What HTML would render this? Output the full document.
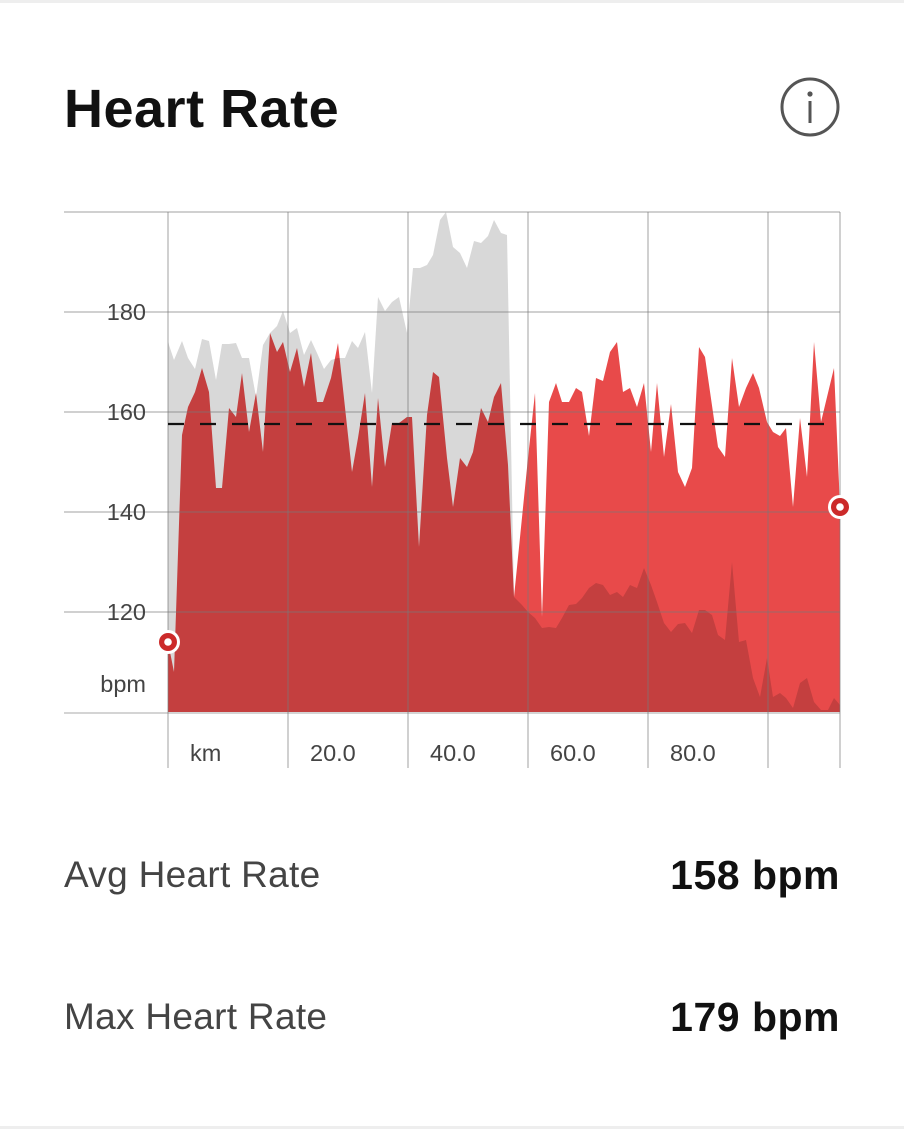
<!DOCTYPE html>
<html><head><meta charset="utf-8">
<style>
html,body{margin:0;padding:0;background:#fff;}
body{width:904px;height:1129px;position:relative;overflow:hidden;font-family:"Liberation Sans",sans-serif;}
.t{position:absolute;white-space:nowrap;line-height:1;}
</style></head>
<body>
<div style="position:absolute;left:0;top:0;width:904px;height:3px;background:#eee"></div>
<div style="position:absolute;left:0;top:1126px;width:904px;height:3px;background:#eee"></div>
<div class="t" style="left:64px;top:82px;font-size:54px;font-weight:bold;color:#111;letter-spacing:0.5px">Heart Rate</div>
<svg style="position:absolute;left:778px;top:76px" width="64" height="64">
<circle cx="32" cy="31" r="28" fill="none" stroke="#555" stroke-width="3"/>
<circle cx="32" cy="18" r="2.6" fill="#555"/>
<rect x="30.5" y="25" width="3" height="22" fill="#555"/>
</svg>
<svg id="chart" style="position:absolute;left:0;top:0" width="904" height="800"></svg>
<div class="t" style="left:64px;top:856px;font-size:37px;color:#444;letter-spacing:0.3px">Avg Heart Rate</div>
<div class="t" style="right:64px;top:855px;font-size:41px;font-weight:bold;color:#111;letter-spacing:0.5px">158 bpm</div>
<div class="t" style="left:64px;top:998px;font-size:37px;color:#444;letter-spacing:0.3px">Max Heart Rate</div>
<div class="t" style="right:64px;top:997px;font-size:41px;font-weight:bold;color:#111;letter-spacing:0.5px">179 bpm</div>
<script>
const hrKm=[0,1,2.33,3.33,4.5,5.67,6.83,8,9,10.17,11.33,12.33,13.5,14.67,15.83,17,18.17,19.17,20.33,21.5,22.67,23.83,24.83,25.83,27.17,28.33,30.67,31.67,32.83,34,35,36.17,37.33,38.5,39.83,40.67,41.83,43.17,44.17,45.17,46.5,47.5,48.67,49.83,50.83,52.17,53.33,54.33,55.5,56.67,57.67,60,61.17,62.33,63.5,64.67,65.67,66.83,68,69,70.17,71.33,72.5,73.67,74.83,75.83,77,78.17,79.33,80.5,81.5,82.67,83.83,85,86.17,87.33,88.5,89.5,91.67,92.83,94,95.17,96.33,97.5,98.5,99.83,100.83,102,103,104.17,105.33,106.5,107.67,108.83,111,112];
const hrBpm=[114,108,155.4,161,164,168.8,164,144.8,144.8,160.8,159,167.8,156,163.8,152,175.8,172,174,168,172.8,165,171.8,162,162,166.8,173.8,148,154.8,163.8,145,162.8,149,157.8,157.8,159,159,133,159.4,168,167,150.8,141,150.8,149,152,160.8,158,163,165.8,149.4,123,150.8,163.8,119,162,165.8,162,162,164.8,164,155.2,166.8,166.2,172,174,164,164.8,161,165.8,152,165.8,151,161.6,148,145,148.8,173,171,153,151,170.8,161,164.8,167.8,164.8,158,156,155.2,156.8,141,158.8,147,174,158,168.8,141];
const elevKm=[0,1,2.33,3.33,4.5,5.67,6.83,8,9,10.17,11.33,12.33,13.5,14.67,15.83,17,18.17,19.17,20.33,21.5,22.67,23.83,24.83,26,27.17,28.33,29.5,30.67,31.67,32.83,34,35,36.17,37.33,38.5,39.83,40.83,42,43.17,44.17,45.33,46.33,47.5,48.67,49.83,51,52.17,53.33,54.33,55.5,56.5,57.67,59,60,61.17,62.33,63.5,64.67,65.67,66.83,68,69,70.17,71.33,72.5,73.67,74.83,75.83,77,78.17,79.33,80.5,81.5,82.67,83.83,85,86.17,87.33,88.5,89.5,90.67,91.67,92.83,94,95.17,96.33,97.5,98.67,99.83,100.83,102,103,104.17,105.33,106.5,107.67,108.83,110,111,112];
const elevVal=[174,170.4,174.2,170.8,168.6,174.6,174.2,166.4,173.6,173.6,173.8,170.8,170.8,163,173.4,175.8,177.2,180.2,175.8,176.8,171.4,174.4,171.8,168.6,170.4,170.8,170.8,174.2,172.8,176,163.8,183,180.2,182,183,175.8,188.8,188.8,189.4,191.4,198.4,200,193,191.8,188.8,194.2,193.8,195.2,198.4,195.8,195.4,123,121.4,120,118.8,116.8,117,116.8,118.8,121.4,121.6,122.8,124.8,125.8,125.4,123.4,124,123,125.4,124.8,128.8,125.4,122,117.8,116,117.6,117.8,115.8,120.4,120.4,119.4,115.4,114.4,130,114,114.4,106.8,103,110.8,103,103.8,102.8,100.8,105.8,106.8,102,100.4,100.4,102.8,101.4];
const yTicks=[120,140,160,180];
const xTicks=[20,40,60,80];
const xTickLabels=["20.0","40.0","60.0","80.0"];
const avgHr=157.6;

const NS="http://www.w3.org/2000/svg";
const svg=document.getElementById('chart');
const X0=168,X1=840,Y0=712,Y1=212,kmMax=112,bMin=100,bMax=200;
const xs=k=>X0+(k/kmMax)*(X1-X0);
const ys=v=>Y0-(v-bMin)/(bMax-bMin)*(Y0-Y1);
function mk(tag,attrs){const e=document.createElementNS(NS,tag);for(const k in attrs)e.setAttribute(k,attrs[k]);svg.appendChild(e);return e;}
function areaPath(kx,vy){let d=`M${xs(kx[0])},${Y0}`;kx.forEach((k,i)=>{d+=` L${xs(k).toFixed(1)},${ys(vy[i]).toFixed(1)}`;});d+=` L${xs(kx[kx.length-1])},${Y0} Z`;return d;}

let hr=mk('path',{d:areaPath(hrKm,hrBpm),fill:'#e84a4a'});


let el=mk('path',{d:areaPath(elevKm,elevVal),fill:'#d8d8d8',style:'mix-blend-mode:multiply'});



[Y1].concat(yTicks.map(ys)).forEach(y=>{
  let l=mk('line',{x1:64,x2:X1,y1:y,y2:y,stroke:'rgba(120,120,120,0.35)','stroke-width':2});
  
  
});
let ax=mk('line',{x1:64,x2:X1,y1:Y0+1,y2:Y0+1,stroke:'#d4d4d4','stroke-width':2});


[0].concat(xTicks,[100,kmMax]).forEach(k=>{
  let l=mk('line',{x1:xs(k),x2:xs(k),y1:Y1,y2:768,stroke:'rgba(120,120,120,0.35)','stroke-width':2});
  
  
});
yTicks.forEach(v=>{
  let t=mk('text',{x:146,y:ys(v)+8,'text-anchor':'end','font-size':23.5,fill:'#444','font-family':'Liberation Sans, sans-serif'});
  t.textContent=v;
  
  
});
let u=mk('text',{x:146,y:692,'text-anchor':'end','font-size':23.5,fill:'#444','font-family':'Liberation Sans, sans-serif'});
u.textContent='bpm';


let km=mk('text',{x:190,y:761,'font-size':23.5,fill:'#444','font-family':'Liberation Sans, sans-serif'});
km.textContent='km';


xTicks.forEach((k,i)=>{
  let t=mk('text',{x:xs(k)+22,y:761,'font-size':23.5,fill:'#444','font-family':'Liberation Sans, sans-serif'});
  t.textContent=xTickLabels[i];
  
  
});
let av=mk('line',{x1:X0,x2:X1,y1:ys(avgHr),y2:ys(avgHr),stroke:'#111','stroke-width':2.2,'stroke-dasharray':'16 16'});


[[hrKm[0],hrBpm[0],'start-marker'],[hrKm[hrKm.length-1],hrBpm[hrBpm.length-1],'end-marker']].forEach(([k,v,n])=>{
  let g=document.createElementNS(NS,'g');svg.appendChild(g);
  
  
  [[12,'#fff'],[9,'#cc2a2a'],[3.8,'#fff']].forEach(([r,f])=>{const c=document.createElementNS(NS,'circle');c.setAttribute('cx',xs(k));c.setAttribute('cy',ys(v));c.setAttribute('r',r);c.setAttribute('fill',f);g.appendChild(c);});
});
</script>
</body></html>
